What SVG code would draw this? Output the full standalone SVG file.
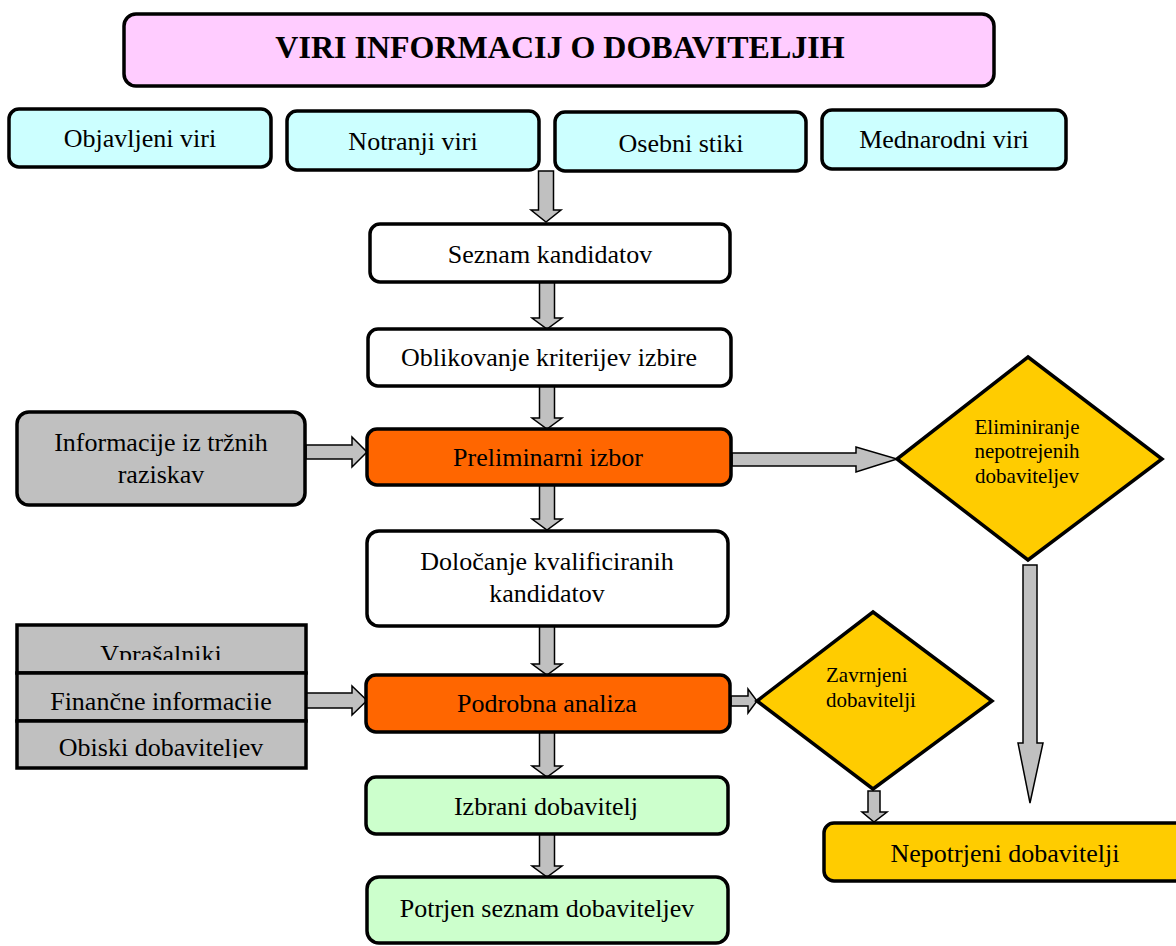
<svg xmlns="http://www.w3.org/2000/svg" width="1176" height="946" viewBox="0 0 1176 946">
<style>
.b{stroke:#000;stroke-width:3.5}
.t{font-family:"Liberation Serif","Times New Roman",serif;font-size:26px;fill:#000;text-anchor:middle}
.s{font-family:"Liberation Serif","Times New Roman",serif;font-size:21px;fill:#000}
.a{fill:#C0C0C0;stroke:#000;stroke-width:1.5;stroke-linejoin:miter}
</style>
<defs>
<clipPath id="c1"><rect x="17" y="620" width="290" height="40"/></clipPath>
<clipPath id="c2"><rect x="17" y="674" width="290" height="36"/></clipPath>
<clipPath id="c3"><rect x="17" y="722" width="290" height="36"/></clipPath>
</defs>
<rect width="1176" height="946" fill="#fff"/>
<g id="connectors">
<path class="a" d="M538.5,171H553.5V210H561L546,222L531,210H538.5Z"/>
<path class="a" d="M539.5,282H554.5V318H562L547,329L532,318H539.5Z"/>
<path class="a" d="M539.5,386H554.5V418H562L547,429L532,418H539.5Z"/>
<path class="a" d="M539.5,485H554.5V519H562L547,530L532,519H539.5Z"/>
<path class="a" d="M539.5,626H554.5V664H562L547,675L532,664H539.5Z"/>
<path class="a" d="M539.5,732H554.5V766H562L547,777L532,766H539.5Z"/>
<path class="a" d="M539.5,834H554.5V866H562L547,877L532,866H539.5Z"/>
<path class="a" d="M306,445H352V437L367,452L352,467V459H306Z"/>
<path class="a" d="M306,693H352V686L367,700.5L352,715V708H306Z"/>
<path class="a" d="M732,453H856V447L897,459L856,472V466H732Z"/>
<path class="a" d="M731,696H748V689L757,701L748,713V706H731Z"/>
<path class="a" d="M1023,565H1037V743H1043L1030,803L1018,743H1023Z"/>
<path class="a" d="M868,791H880V812H887L874,822L862,812H868Z"/>
</g>
<g id="title">
<rect class="b" x="124" y="14" width="870" height="72" rx="12" fill="#FFCCFF"/>
<text x="560" y="58" font-family="Liberation Serif,Times New Roman,serif" font-size="32" font-weight="bold" text-anchor="middle">VIRI INFORMACIJ O DOBAVITELJIH</text>
</g>
<g id="objavljeni">
<rect class="b" x="9" y="109" width="262" height="58" rx="10" fill="#CCFFFF"/>
<text class="t" x="140" y="147">Objavljeni viri</text>
</g>
<g id="notranji">
<rect class="b" x="287" y="111" width="252" height="59" rx="10" fill="#CCFFFF"/>
<text class="t" x="413" y="150">Notranji viri</text>
</g>
<g id="osebni">
<rect class="b" x="555" y="112" width="251" height="59" rx="10" fill="#CCFFFF"/>
<text class="t" x="681" y="152">Osebni stiki</text>
</g>
<g id="mednarodni">
<rect class="b" x="822" y="110" width="244" height="59" rx="10" fill="#CCFFFF"/>
<text class="t" x="944" y="148">Mednarodni viri</text>
</g>
<g id="seznam">
<rect class="b" x="370" y="224" width="360" height="58" rx="10" fill="#fff"/>
<text class="t" x="550" y="263">Seznam kandidatov</text>
</g>
<g id="oblikovanje">
<rect class="b" x="368" y="329" width="363" height="57" rx="10" fill="#fff"/>
<text class="t" x="549" y="366">Oblikovanje kriterijev izbire</text>
</g>
<g id="informacije">
<rect class="b" x="17" y="412" width="288" height="93" rx="12" fill="#C0C0C0"/>
<text class="t" x="161" y="451">Informacije iz tržnih</text>
<text class="t" x="161" y="483">raziskav</text>
</g>
<g id="preliminarni">
<rect class="b" x="367" y="429" width="364" height="56" rx="10" fill="#FF6600"/>
<text class="t" x="548" y="466">Preliminarni izbor</text>
</g>
<g id="eliminiranje">
<polygon class="b" points="1028,357 1162,459 1028,560 897,459" fill="#FFCC00"/>
<text class="s" x="1027" y="434" text-anchor="middle">Eliminiranje</text>
<text class="s" x="1027" y="458" text-anchor="middle">nepotrejenih</text>
<text class="s" x="1027" y="483" text-anchor="middle">dobaviteljev</text>
</g>
<g id="dolocanje">
<rect class="b" x="367" y="531" width="361" height="95" rx="12" fill="#fff"/>
<text class="t" x="547" y="570">Določanje kvalificiranih</text>
<text class="t" x="547" y="602">kandidatov</text>
</g>
<g id="viri-analize">
<rect class="b" x="17" y="625" width="289" height="48" fill="#C0C0C0"/>
<rect class="b" x="17" y="673" width="289" height="48" fill="#C0C0C0"/>
<rect class="b" x="17" y="721" width="289" height="47" fill="#C0C0C0"/>
<text class="t" x="161" y="663" clip-path="url(#c1)">Vprašalniki</text>
<text class="t" x="161" y="710" clip-path="url(#c2)">Finančne informacije</text>
<text class="t" x="161" y="756" clip-path="url(#c3)">Obiski dobaviteljev</text>
</g>
<g id="podrobna">
<rect class="b" x="366" y="675" width="364" height="57" rx="10" fill="#FF6600"/>
<text class="t" x="547" y="712">Podrobna analiza</text>
</g>
<g id="zavrnjeni">
<polygon class="b" points="873,612 992,701 873,789 757,701" fill="#FFCC00"/>
<text class="s" x="826" y="682">Zavrnjeni</text>
<text class="s" x="826" y="707">dobavitelji</text>
</g>
<g id="izbrani">
<rect class="b" x="366" y="777" width="362" height="57" rx="10" fill="#CCFFCC"/>
<text class="t" x="546" y="815">Izbrani dobavitelj</text>
</g>
<g id="potrjen">
<rect class="b" x="367" y="877" width="361" height="66" rx="12" fill="#CCFFCC"/>
<text class="t" x="547" y="917">Potrjen seznam dobaviteljev</text>
</g>
<g id="nepotrjeni">
<rect class="b" x="824" y="823" width="380" height="58" rx="10" fill="#FFCC00"/>
<text class="t" x="1005" y="862">Nepotrjeni dobavitelji</text>
</g>
</svg>
